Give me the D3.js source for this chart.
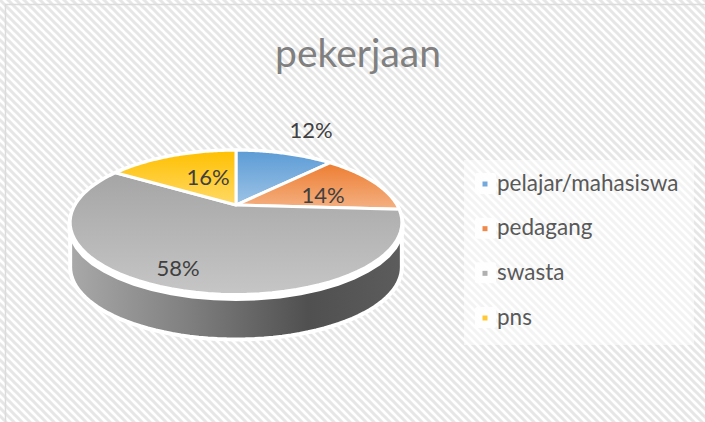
<!DOCTYPE html>
<html><head><meta charset="utf-8">
<script src="https://cdn.jsdelivr.net/npm/d3@7/dist/d3.min.js"></script>
<style>html,body{margin:0;padding:0;background:#fff;overflow:hidden}svg{display:block}text{font-family:Lato,"Open Sans",sans-serif}</style>
</head><body><svg id="c" width="705" height="422"></svg>
<script>
const categories = ["pelajar/mahasiswa","pedagang","swasta","pns"];
const values = [12,14,58,16];
const labels = ["12%","14%","58%","16%"];
const titleText = "pekerjaan";
const topColors = [["#5b9bd5","#9dc3e6"],["#ed7d31","#f4b183"],["#a5a5a5","#c6c6c6"],["#ffc000","#ffd966"]];
const legendColors = ["#74a9dc","#ef8a4c","#b0b0b0","#ffc935"];

const svg = d3.select("#c");
const defs = svg.append("defs");
const pat = defs.append("pattern").attr("id","bg").attr("width",8).attr("height",8).attr("patternUnits","userSpaceOnUse");
pat.append("rect").attr("width",8).attr("height",8).attr("fill","#fff");
pat.append("path").attr("d","M-2,-2L10,10M-6,2L6,14M2,-6L14,6").attr("stroke","#e6e6e6").attr("stroke-width",3);
defs.append("filter").attr("id","soft").attr("x",0).attr("y",0).attr("width","100%").attr("height","100%")
  .append("feGaussianBlur").attr("stdDeviation",0.6);

svg.append("rect").attr("width",705).attr("height",422).attr("fill","url(#bg)").attr("filter","url(#soft)");
svg.append("path").attr("d","M5.5,422V4.5H705").attr("fill","none").attr("stroke","#dcdcdc").attr("stroke-width",1.5);

svg.append("text").attr("x",358).attr("y",67).attr("text-anchor","middle").attr("font-size",39).attr("font-weight",400).attr("fill","#808080").text(titleText);

// perspective projection of the pie disc
const cx=236, cy=205, R=161, S=68, k=0.24, depth=45;
const proj = (a,r=1)=>{const v=-Math.cos(a)*r, w=1-k*v; return [cx+R*Math.sin(a)*r/w, cy+S*v/w];};
const arcs = d3.pie().sort(null).value(d=>d)(values);
const line = d3.line();
const sample=(a0,a1)=>d3.range(0,61).map(i=>a0+(a1-a0)*i/60);

// side wall (front half of the rim, from the rightmost to the leftmost visible point)
const aR = Math.acos(-k), aL = 2*Math.PI-aR;
const rim = sample(aR,aL).map(a=>proj(a));
const sideGrad = defs.append("linearGradient").attr("id","side").attr("gradientUnits","userSpaceOnUse").attr("x1",72).attr("x2",400).attr("y1",0).attr("y2",0);
[[0,"#a8a8a8"],[.35,"#808080"],[.72,"#505050"],[1,"#5c5c5c"]].forEach(s=>sideGrad.append("stop").attr("offset",s[0]).attr("stop-color",s[1]));
const sidePts = rim.concat(rim.slice().reverse().map(p=>[p[0],p[1]+depth]));
svg.append("path").attr("d",line(sidePts)+"Z").attr("fill","url(#side)").attr("stroke","#fff").attr("stroke-width",4).attr("stroke-linejoin","round");

// white rim separating the top face from the wall
const outline = sample(0,2*Math.PI).map(a=>proj(a));
svg.append("path").attr("d",line(outline.map(p=>[p[0],p[1]+3.5]))+"Z").attr("fill","#fff").attr("stroke","#fff").attr("stroke-width",6);
svg.append("path").attr("d",line(outline)+"Z").attr("fill","#fff").attr("stroke","#fff").attr("stroke-width",4);

// top face
arcs.forEach((d,i)=>{
  const id="g"+i;
  const g=defs.append("linearGradient").attr("id",id).attr("gradientUnits","userSpaceOnUse").attr("x1",0).attr("x2",0);
  const pts=sample(d.startAngle,d.endAngle).map(a=>proj(a));
  const full=[[cx,cy]].concat(pts);
  const ys=d3.extent(full,p=>p[1]);
  g.attr("y1",ys[0]).attr("y2",ys[1]);
  g.append("stop").attr("offset",0).attr("stop-color",topColors[i][0]);
  g.append("stop").attr("offset",1).attr("stop-color",topColors[i][1]);
  svg.append("path").attr("d",line(full)+"Z").attr("fill","url(#"+id+")").attr("stroke","#fff").attr("stroke-width",3).attr("stroke-linejoin","round");
});

// data labels
const labelPos=[[311,130],[323,195],[178,268],[208,177]];
labels.forEach((t,i)=>svg.append("text").attr("x",labelPos[i][0]).attr("y",labelPos[i][1]+7.5).attr("text-anchor","middle").attr("font-size",22).attr("fill","#404040").text(t));

// legend
svg.append("rect").attr("x",464).attr("y",160).attr("width",230).attr("height",185).attr("fill","#fff").attr("fill-opacity",.5);
const ly=d3.scalePoint().domain(categories).range([184,318]);
categories.forEach((c,i)=>{
  const y=ly(c);
  svg.append("rect").attr("x",475).attr("y",y-11).attr("width",21).attr("height",21).attr("rx",2).attr("fill","#fff").attr("fill-opacity",.85);
  svg.append("rect").attr("x",482.5).attr("y",y-2.5).attr("width",5).attr("height",5).attr("fill",legendColors[i]);
  svg.append("text").attr("x",497).attr("y",y+6.5).attr("font-size",22.5).attr("fill","#595959").text(c);
});
</script></body></html>
